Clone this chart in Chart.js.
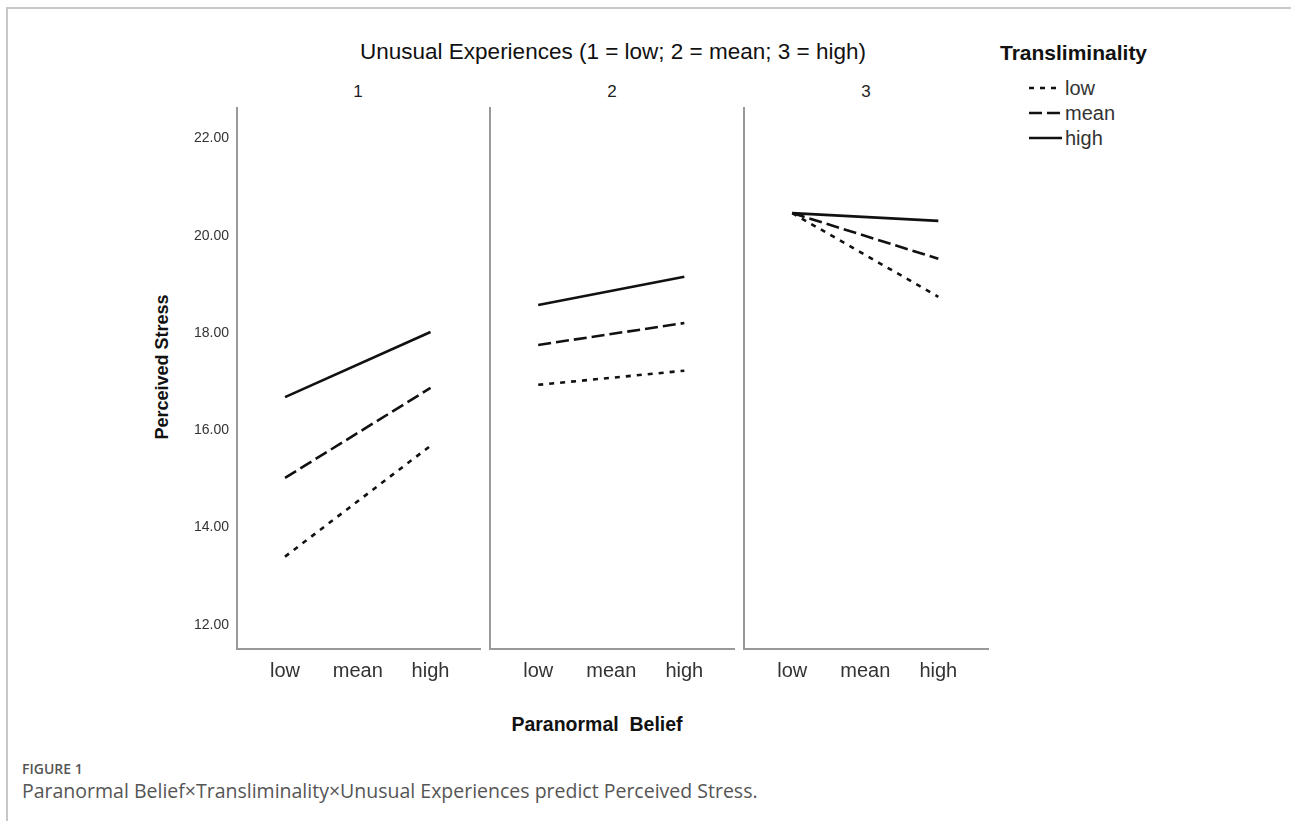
<!DOCTYPE html>
<html>
<head>
<meta charset="utf-8">
<script src="https://cdn.jsdelivr.net/npm/chart.js@4.4.1/dist/chart.umd.min.js"></script>
<style>
  body { margin: 0; background: #fff; width: 1291px; height: 821px; overflow: hidden; position: relative;
         font-family: 'Liberation Sans', Arial, sans-serif; }
  .frame { position: absolute; left: 6px; top: 7px; right: -10px; bottom: -10px;
           border-left: 2px solid #c8c8c8; border-top: 2px solid #c8c8c8; }
  .t { position: absolute; white-space: nowrap; line-height: 1; }
  canvas { position: absolute; }
</style>
</head>
<body>
<div class="frame"></div>

<div class="t" style="left:613px;top:52px;font-size:22.5px;color:#111;transform:translate(-50%,-50%);">Unusual Experiences (1 = low; 2 = mean; 3 = high)</div>
<div class="t" id="pn1" style="top:91px;font-size:17px;color:#222;"></div>
<div class="t" id="pn2" style="top:91px;font-size:17px;color:#222;"></div>
<div class="t" id="pn3" style="top:91px;font-size:17px;color:#222;"></div>

<div class="t" style="left:1000px;top:52px;font-size:21px;font-weight:bold;color:#111;transform:translateY(-50%);">Transliminality</div>
<div id="legend"></div>

<div class="t" style="left:162px;top:367px;font-size:18px;font-weight:bold;color:#111;transform:translate(-50%,-50%) rotate(-90deg);">Perceived Stress</div>
<div class="t" style="left:597px;top:725px;font-size:19.5px;font-weight:bold;color:#111;transform:translate(-50%,-50%);">Paranormal&nbsp; Belief</div>

<div class="t" style="left:22px;top:762px;font-family:'Open Sans';font-size:14px;font-weight:600;color:#555;">FIGURE 1</div>
<div class="t" style="left:22px;top:781px;font-family:'Open Sans';font-size:19.5px;color:#555;">Paranormal Belief×Transliminality×Unusual Experiences predict Perceived Stress.</div>

<canvas id="p1" width="337" height="607" style="left:147px;top:92px;"></canvas>
<canvas id="p2" width="258" height="599" style="left:480px;top:100px;"></canvas>
<canvas id="p3" width="258" height="599" style="left:734px;top:100px;"></canvas>

<script>
// ── Data ──────────────────────────────────────────────────────────────────────
const categories  = ['low', 'mean', 'high'];
const panelLabels = ['1', '2', '3'];
const levels      = ['low', 'mean', 'high'];

// perceived stress at paranormal belief = low / high, per unusual-experiences panel
const lowTrans  = [[13.40, 15.68], [16.93, 17.22], [20.46, 18.74]];
const meanTrans = [[15.02, 16.87], [17.75, 18.20], [20.46, 19.52]];
const highTrans = [[16.68, 18.02], [18.57, 19.15], [20.46, 20.30]];

const yTicks = [12, 14, 16, 18, 20, 22];

// ── Style ─────────────────────────────────────────────────────────────────────
const DASHES   = { low: [5, 6], mean: [13, 5], high: [] };
const AXIS_COL = '#999';
const LINE_COL = '#111';

function pts(pair) {
  // endpoints sit on the 'low' and 'high' categories
  return [{ x: 0, y: pair[0] }, { x: 2, y: pair[1] }];
}

function renderPanel(id, i, showY) {
  const ctx = document.getElementById(id).getContext('2d');
  const series = { low: lowTrans[i], mean: meanTrans[i], high: highTrans[i] };
  new Chart(ctx, {
    type: 'line',
    data: {
      datasets: levels.map(l => ({
        label: l,
        data: pts(series[l]),
        borderColor: LINE_COL,
        borderWidth: 2.6,
        borderDash: DASHES[l],
        pointRadius: 0,
        fill: false,
      })),
    },
    options: {
      responsive: false,
      animation: false,
      layout: { padding: { top: 8, right: 4, left: 0, bottom: 0 } },
      plugins: { legend: { display: false }, tooltip: { enabled: false } },
      scales: {
        x: {
          type: 'linear', min: -0.66, max: 2.68,
          afterBuildTicks: s => { s.ticks = categories.map((_, k) => ({ value: k })); },
          afterFit: s => { s.height = 50; },
          grid: { display: false, drawTicks: false },
          border: { display: true, color: AXIS_COL, width: 2 },
          ticks: {
            padding: 10, color: '#333', maxRotation: 0,
            font: { family: 'Liberation Sans', size: 20 },
            callback: v => categories[v] ?? '',
          },
        },
        y: {
          min: 11.5, max: 22.62,
          afterBuildTicks: s => { s.ticks = yTicks.map(v => ({ value: v })); },
          afterFit: s => { s.width = showY ? 90 : 10; },
          grid: { display: false, drawTicks: false },
          border: { display: true, color: AXIS_COL, width: 2 },
          ticks: {
            display: showY, padding: 8, color: '#333',
            font: { family: 'Liberation Sans', size: 14 },
            callback: v => v.toFixed(2),
          },
        },
      },
    },
  });
}

renderPanel('p1', 0, true);
renderPanel('p2', 1, false);
renderPanel('p3', 2, false);

// panel headers
[358, 612, 866].forEach((cx, k) => {
  const el = document.getElementById('pn' + (k + 1));
  el.textContent = panelLabels[k];
  el.style.left = cx + 'px';
  el.style.transform = 'translate(-50%,-50%)';
});

// legend
const lg = document.getElementById('legend');
const legendY = [88, 113, 138];
levels.forEach((l, k) => {
  const row = document.createElement('div');
  row.className = 't';
  row.style.cssText = `left:1029px;top:${legendY[k]}px;transform:translateY(-50%);font-size:20px;color:#333;display:flex;align-items:center;`;
  row.innerHTML =
    `<svg width="34" height="4" style="margin-right:2px"><line x1="0" y1="2" x2="33" y2="2" stroke="${LINE_COL}" stroke-width="2.6" stroke-dasharray="${DASHES[l].join(',') || 'none'}"/></svg><span>${l}</span>`;
  lg.appendChild(row);
});
</script>
</body>
</html>
